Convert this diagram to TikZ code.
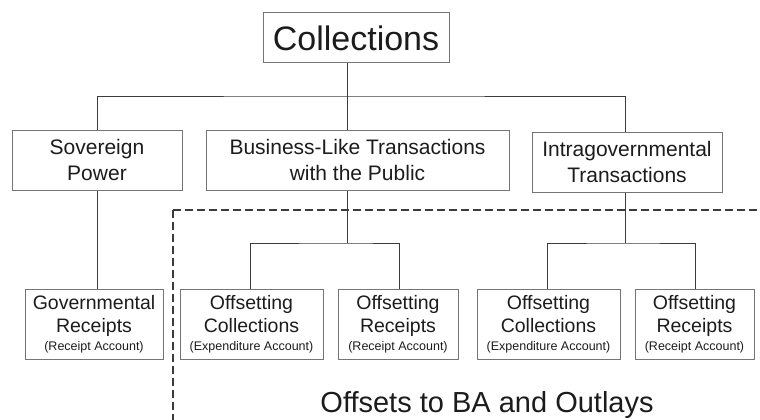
\documentclass[tikz,border=0pt]{standalone}
\usepackage{fontspec}
\setmainfont{Liberation Sans}
\usepackage{xcolor}
\usepackage{tikz}
\usetikzlibrary{
    positioning,
    calc
}
\definecolor{boxgray}{HTML}{757575}
\definecolor{linegray}{HTML}{3C3C3C}
\definecolor{inkblack}{HTML}{1C1C1C}

\begin{document}
\begin{tikzpicture}[x=1pt, y=-1pt,
        box/.style={draw=boxgray, line width=1pt, inner sep=0pt, align=center, text=inkblack},
        midbox/.style={box, minimum height=60, font=\fontsize{21}{26.5}\selectfont},
        lowbox/.style={box, minimum height=70, font=\fontsize{19.5}{23}\selectfont},
        link/.style={draw=linegray, line width=0.9pt},
        frame/.style={draw=linegray, line width=1.6pt, dash pattern=on 8pt off 4pt}
    ]
        \useasboundingbox (0,0) rectangle (760,420);
        % 点線の枠
        \draw[frame] (173,210) -- (775,210) (173,210) -- (173,420.6) -- (775,420.6);
        
        \node[box, minimum width=186, minimum height=50, font=\fontsize{34}{39}\selectfont] (coll) at (356,38) {Collections};
        
        \node[midbox, minimum width=170] (sov) at (97,160) {Sovereign\\Power};
        \node[midbox, minimum width=303] (bus) at (357.5,160) {Business-Like Transactions\\with the Public};
        \node[midbox, minimum width=190] (intra) at (627,162) {Intragovernmental\\Transactions};
        
        \node[lowbox, minimum width=138] (gov) at (94,324) {Governmental\\Receipts\\[-5pt]{\fontsize{12.5}{15}\selectfont (Receipt Account)}};
        \node[lowbox, minimum width=143] (colA) at (251.5,324) {Offsetting\\Collections\\[-5pt]{\fontsize{12.5}{15}\selectfont (Expenditure Account)}};
        \node[lowbox, minimum width=120] (recA) at (398,324) {Offsetting\\Receipts\\[-5pt]{\fontsize{12.5}{15}\selectfont (Receipt Account)}};
        \node[lowbox, minimum width=143] (colB) at (548.5,324) {Offsetting\\Collections\\[-5pt]{\fontsize{12.5}{15}\selectfont (Expenditure Account)}};
        \node[lowbox, minimum width=119] (recB) at (694.5,324) {Offsetting\\Receipts\\[-5pt]{\fontsize{12.5}{15}\selectfont (Receipt Account)}};
        
        \node[text=inkblack, font=\fontsize{29}{34}\selectfont, anchor=base] (offsets) at (487,412) {Offsets to BA and Outlays};
        
        % 木の枝
        \coordinate (hub) at (347,96);
        \coordinate (busjoin) at (347,243);
        \coordinate (intrajoin) at (625,243);
        \draw[link] (coll.south -| hub) -- (bus.north -| hub);
        \draw[link] (sov.north) |- (hub) -| (intra.north -| intrajoin);
        \draw[link] (sov.south) -- (gov.north -| sov.south);
        \draw[link] (bus.south -| busjoin) -- (busjoin);
        \draw[link] (colA.north -| 250,0) |- (busjoin) -| (recA.north -| 399,0);
        \draw[link] (intra.south -| intrajoin) -- (intrajoin);
        \draw[link] (colB.north -| 547,0) |- (intrajoin) -| (recB.north -| 695,0);
    \end{tikzpicture}
\end{document}
